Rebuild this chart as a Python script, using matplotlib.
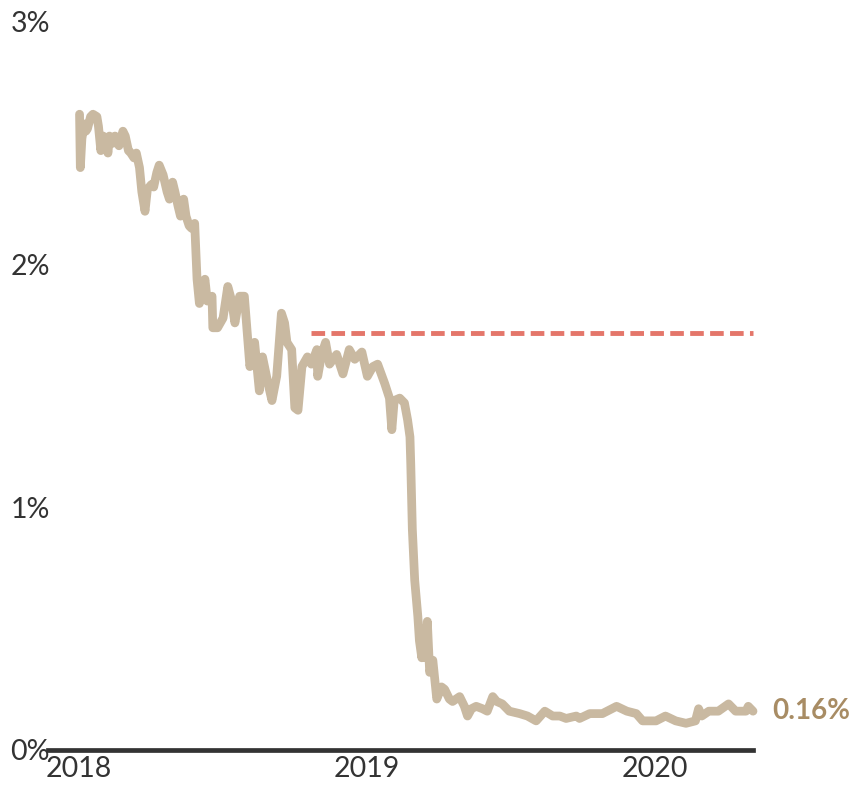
import matplotlib
matplotlib.use("Agg")
import matplotlib.pyplot as plt
import pandas as pd

# yield series, % (date, value)
dates = [
    "2018-01-02", "2018-01-03", "2018-01-05", "2018-01-08", "2018-01-10", "2018-01-12",
    "2018-01-16", "2018-01-19", "2018-01-24", "2018-01-26", "2018-01-29", "2018-02-01",
    "2018-02-05", "2018-02-07", "2018-02-09", "2018-02-13", "2018-02-16", "2018-02-21",
    "2018-02-26", "2018-03-01", "2018-03-05", "2018-03-08", "2018-03-12", "2018-03-15",
    "2018-03-19", "2018-03-22", "2018-03-26", "2018-03-29", "2018-04-03", "2018-04-06",
    "2018-04-10", "2018-04-13", "2018-04-18", "2018-04-23", "2018-04-26", "2018-04-30",
    "2018-05-03", "2018-05-07", "2018-05-10", "2018-05-14", "2018-05-17", "2018-05-21",
    "2018-05-24", "2018-05-28", "2018-05-31", "2018-06-03", "2018-06-10", "2018-06-13",
    "2018-06-19", "2018-06-20", "2018-06-26", "2018-07-03", "2018-07-09", "2018-07-14",
    "2018-07-18", "2018-07-24", "2018-07-30", "2018-08-06", "2018-08-12", "2018-08-18",
    "2018-08-22", "2018-08-29", "2018-09-03", "2018-09-09", "2018-09-15", "2018-09-19",
    "2018-09-22", "2018-09-28", "2018-10-02", "2018-10-06", "2018-10-11", "2018-10-18",
    "2018-10-23", "2018-10-30", "2018-10-31", "2018-11-05", "2018-11-10", "2018-11-15",
    "2018-11-24", "2018-12-02", "2018-12-10", "2018-12-17", "2018-12-26", "2019-01-02",
    "2019-01-09", "2019-01-15", "2019-01-24", "2019-01-30", "2019-02-02", "2019-02-05",
    "2019-02-12", "2019-02-18", "2019-02-22", "2019-02-25", "2019-02-26", "2019-02-28",
    "2019-03-03", "2019-03-07", "2019-03-09", "2019-03-12", "2019-03-14", "2019-03-17",
    "2019-03-19", "2019-03-22", "2019-03-26", "2019-03-31", "2019-04-06", "2019-04-10",
    "2019-04-16", "2019-04-20", "2019-04-29", "2019-05-05", "2019-05-09", "2019-05-14",
    "2019-05-20", "2019-05-28", "2019-06-03", "2019-06-10", "2019-06-15", "2019-06-22",
    "2019-07-01", "2019-07-14", "2019-07-24", "2019-08-04", "2019-08-15", "2019-08-25",
    "2019-09-03", "2019-09-11", "2019-09-24", "2019-09-28", "2019-10-11", "2019-10-27",
    "2019-11-14", "2019-11-27", "2019-12-09", "2019-12-17", "2020-01-03", "2020-01-15",
    "2020-01-28", "2020-02-10", "2020-02-22", "2020-02-26", "2020-03-01", "2020-03-10",
    "2020-03-22", "2020-04-04", "2020-04-13", "2020-04-26", "2020-04-29", "2020-05-05",
]
yields = [
    2.62, 2.40, 2.52, 2.58, 2.55, 2.56,
    2.61, 2.62, 2.61, 2.57, 2.47, 2.53,
    2.50, 2.46, 2.53, 2.50, 2.53, 2.49,
    2.55, 2.53, 2.47, 2.46, 2.44, 2.46,
    2.40, 2.30, 2.22, 2.31, 2.33, 2.32,
    2.38, 2.41, 2.37, 2.30, 2.27, 2.34,
    2.30, 2.24, 2.20, 2.27, 2.20, 2.16,
    2.15, 2.17, 1.94, 1.84, 1.94, 1.85,
    1.87, 1.74, 1.74, 1.78, 1.91, 1.85,
    1.76, 1.87, 1.87, 1.58, 1.68, 1.48,
    1.62, 1.51, 1.44, 1.54, 1.80, 1.76,
    1.68, 1.65, 1.41, 1.40, 1.58, 1.62,
    1.59, 1.65, 1.54, 1.63, 1.68, 1.59,
    1.63, 1.55, 1.65, 1.61, 1.64, 1.54,
    1.58, 1.59, 1.51, 1.45, 1.32, 1.44,
    1.45, 1.43, 1.36, 1.29, 1.18, 0.91,
    0.70, 0.55, 0.45, 0.38, 0.50, 0.38,
    0.53, 0.32, 0.37, 0.21, 0.26, 0.25,
    0.21, 0.20, 0.22, 0.18, 0.14, 0.17,
    0.18, 0.17, 0.16, 0.22, 0.20, 0.19,
    0.16, 0.15, 0.14, 0.12, 0.16, 0.14,
    0.14, 0.13, 0.14, 0.13, 0.15, 0.15,
    0.18, 0.16, 0.15, 0.12, 0.12, 0.14,
    0.12, 0.11, 0.12, 0.17, 0.14, 0.16,
    0.16, 0.19, 0.16, 0.16, 0.18, 0.16,
]

# reference level (dashed)
ref_level = 1.72
ref_start, ref_end = "2018-10-23", "2020-05-05"

y_ticks = [0, 1, 2, 3]
y_labels = ["0%", "1%", "2%", "3%"]
x_ticks = ["2018-01-01", "2019-01-01", "2020-01-01"]
x_labels = ["2018", "2019", "2020"]
last_label = "0.16%"

line_color = "#C9B9A1"
label_color = "#A88C64"
ref_color = "#E4766A"
axis_color = "#333333"

plt.rcParams["font.family"] = ["Lato", "DejaVu Sans"]

fig = plt.figure(figsize=(8.56, 8.07), dpi=100)
ax = fig.add_axes([48 / 856, 57 / 807, (753 - 48) / 856, (750 - 22) / 807])

x = pd.to_datetime(dates)
ax.plot(x, yields, color=line_color, lw=6.3, solid_joinstyle="round",
        solid_capstyle="round", clip_on=False, zorder=3)

ax.plot(pd.to_datetime([ref_start, ref_end]), [ref_level, ref_level], color=ref_color,
        lw=3.5, dashes=(2.8, 1.3), clip_on=False, zorder=2)

ax.axhline(0, color=axis_color, lw=3.4, clip_on=False, zorder=1)

ax.annotate(last_label, (x[-1], yields[-1]), xytext=(14, 0), textcoords="offset points",
            ha="left", va="center", fontsize=20, fontweight="bold", color=label_color,
            annotation_clip=False)

ax.set_xlim(pd.Timestamp("2017-11-23"), pd.Timestamp("2020-05-05"))
ax.set_ylim(0, 3)

ax.set_yticks(y_ticks)
ax.set_yticklabels(y_labels, ha="left")
ax.set_xticks(pd.to_datetime(x_ticks))
ax.set_xticklabels(x_labels)
ax.tick_params(axis="y", length=0, pad=27, labelsize=20.5, labelcolor=axis_color)
ax.tick_params(axis="x", length=0, pad=4, labelsize=20.5, labelcolor=axis_color)

for s in ax.spines.values():
    s.set_visible(False)

fig.savefig("out.png", dpi=100, facecolor="white")
